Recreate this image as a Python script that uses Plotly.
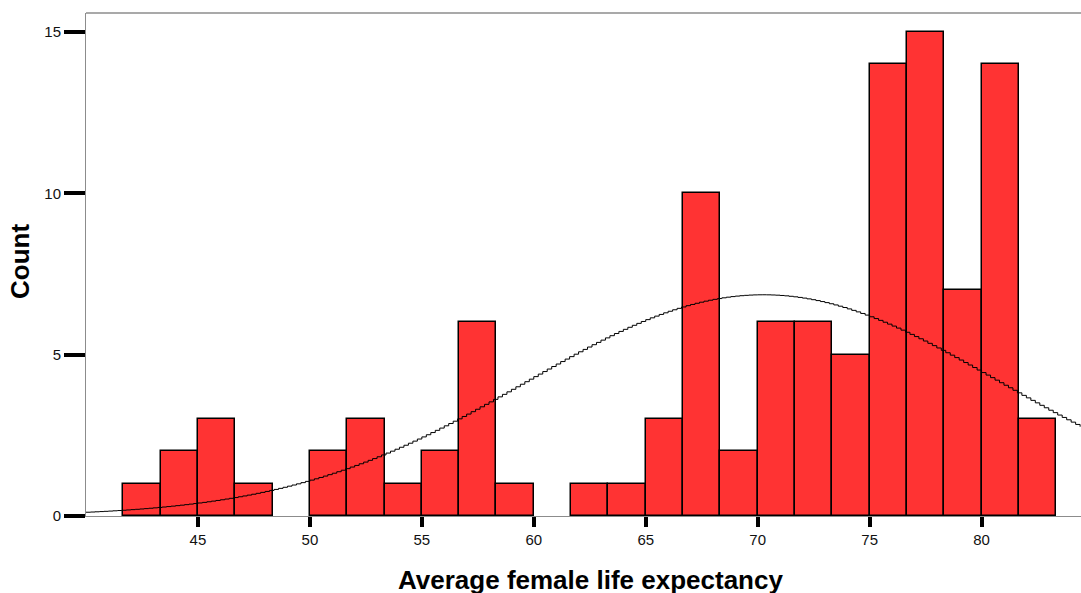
import numpy as np
import plotly.graph_objects as go

# Histogram data (bins of width 5/3 starting at 41.667)
bin_start = 41.6667
bin_width = 5.0 / 3.0
counts = [1, 2, 3, 1, 0, 2, 3, 1, 2, 6, 1, 0, 1, 1, 3, 10, 2, 6, 6, 5, 14, 15, 7, 14, 3]

# Normal curve parameters
mean_val = 70.16
sd_val = 10.57

x_ticks = [45, 50, 55, 60, 65, 70, 75, 80]
y_ticks = [0, 5, 10, 15]

x_title = "Average female life expectancy"
y_title = "Count"

n_total = sum(counts)
centers = [bin_start + bin_width * (i + 0.5) for i in range(len(counts))]
bx = [c for c, v in zip(centers, counts) if v > 0]
by = [v for v in counts if v > 0]

xs = np.arange(40.0, 84.6, 0.2)
ys = n_total * bin_width / (sd_val * np.sqrt(2 * np.pi)) * np.exp(-0.5 * ((xs - mean_val) / sd_val) ** 2)

FONT = "Arial, 'Liberation Sans', sans-serif"

fig = go.Figure()
fig.add_trace(go.Bar(
    x=bx, y=by, width=bin_width,
    marker=dict(color="#FF3333", line=dict(color="black", width=1.5)),
    hoverinfo="x+y",
))
fig.add_trace(go.Scatter(
    x=xs, y=ys, mode="lines", line=dict(color="black", width=1, shape="hv"),
    hoverinfo="skip",
))

fig.update_layout(
    width=1081, height=593,
    margin=dict(l=86, r=0, t=13, b=77),
    paper_bgcolor="white", plot_bgcolor="white",
    showlegend=False, bargap=0,
    font=dict(family=FONT, size=15, color="#111"),
    xaxis=dict(
        range=[40, 84.44], tickvals=x_ticks, ticks="outside", ticklen=10, tickwidth=3.5,
        tickcolor="black", showgrid=False, zeroline=False, showline=True,
        linecolor="#8c8c8c", linewidth=1, tickfont=dict(size=15),
    ),
    yaxis=dict(
        range=[0, 15.59], tickvals=y_ticks, ticks="outside", ticklen=21, tickwidth=4,
        tickcolor="black", showgrid=False, zeroline=False, showline=True,
        linecolor="#8c8c8c", linewidth=1, tickfont=dict(size=15),
    ),
    shapes=[dict(type="line", xref="paper", yref="paper", x0=0, x1=1, y0=1, y1=1,
                 line=dict(color="#8c8c8c", width=1.5))],
    annotations=[
        dict(text=f"<b>{x_title}</b>", xref="paper", yref="paper",
             x=(590 - 86) / 995, y=-(580 - 516) / 503, xanchor="center", yanchor="middle",
             showarrow=False, font=dict(size=26, color="black", family=FONT)),
        dict(text=f"<b>{y_title}</b>", xref="paper", yref="paper",
             x=-(86 - 20) / 995, y=(516 - 262) / 503, xanchor="center", yanchor="middle",
             textangle=-90, showarrow=False, font=dict(size=26, color="black", family=FONT)),
    ],
)

fig.write_html("out.html")
